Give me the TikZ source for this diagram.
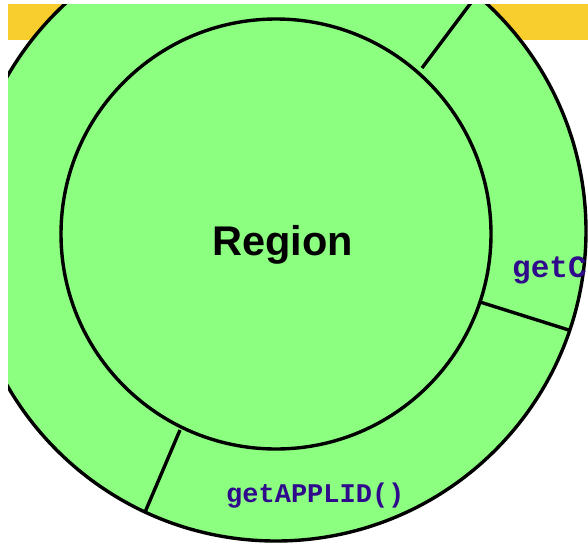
\documentclass[tikz,border=0pt]{standalone}
\usepackage{fontspec}
\newfontfamily\sansb{Liberation Sans}
\newfontfamily\monob{Liberation Mono}
\definecolor{ringgreen}{RGB}{140,255,128}
\definecolor{bandyellow}{RGB}{248,206,46}
\definecolor{methodblue}{RGB}{48,10,140}
\tikzset{
  ringline/.style={line width=3.4pt, black},
  regionlabel/.style={font=\sansb\bfseries\fontsize{41.5}{41.5}\selectfont, inner sep=0pt, anchor=base},
  methodlabel/.style={font=\monob\bfseries\fontsize{27}{27}\selectfont, text=methodblue, inner sep=0pt, anchor=base west}
}
\begin{document}
\begin{tikzpicture}[x=1pt,y=-1pt]
\useasboundingbox (0,0) rectangle (588,546);
\begin{scope}
  \clip (8,4) rectangle (588,546);
  \fill[bandyellow] (8,4) rectangle (588,40);
  \fill[ringgreen] (276,231) circle (310);
  \begin{scope}
    \clip (276,231) circle (310);
    \draw[ringline] (422,68) -- (482,-12);
    \draw[ringline] (480,302) -- (610,343);
    \draw[ringline] (180,430) -- (134,538);
  \end{scope}
  \draw[ringline] (276,231) circle (310);
  \draw[ringline, fill=ringgreen] (276,234) circle (215);
  \node[regionlabel] (region) at (282.5,255) {Region};
  \node[methodlabel] (applid) at (226,502) {getAPPLID()};
  \node[methodlabel, font=\monob\bfseries\fontsize{31}{31}\selectfont] (getc) at (512,277) {getC};
\end{scope}
\end{tikzpicture}
\end{document}
